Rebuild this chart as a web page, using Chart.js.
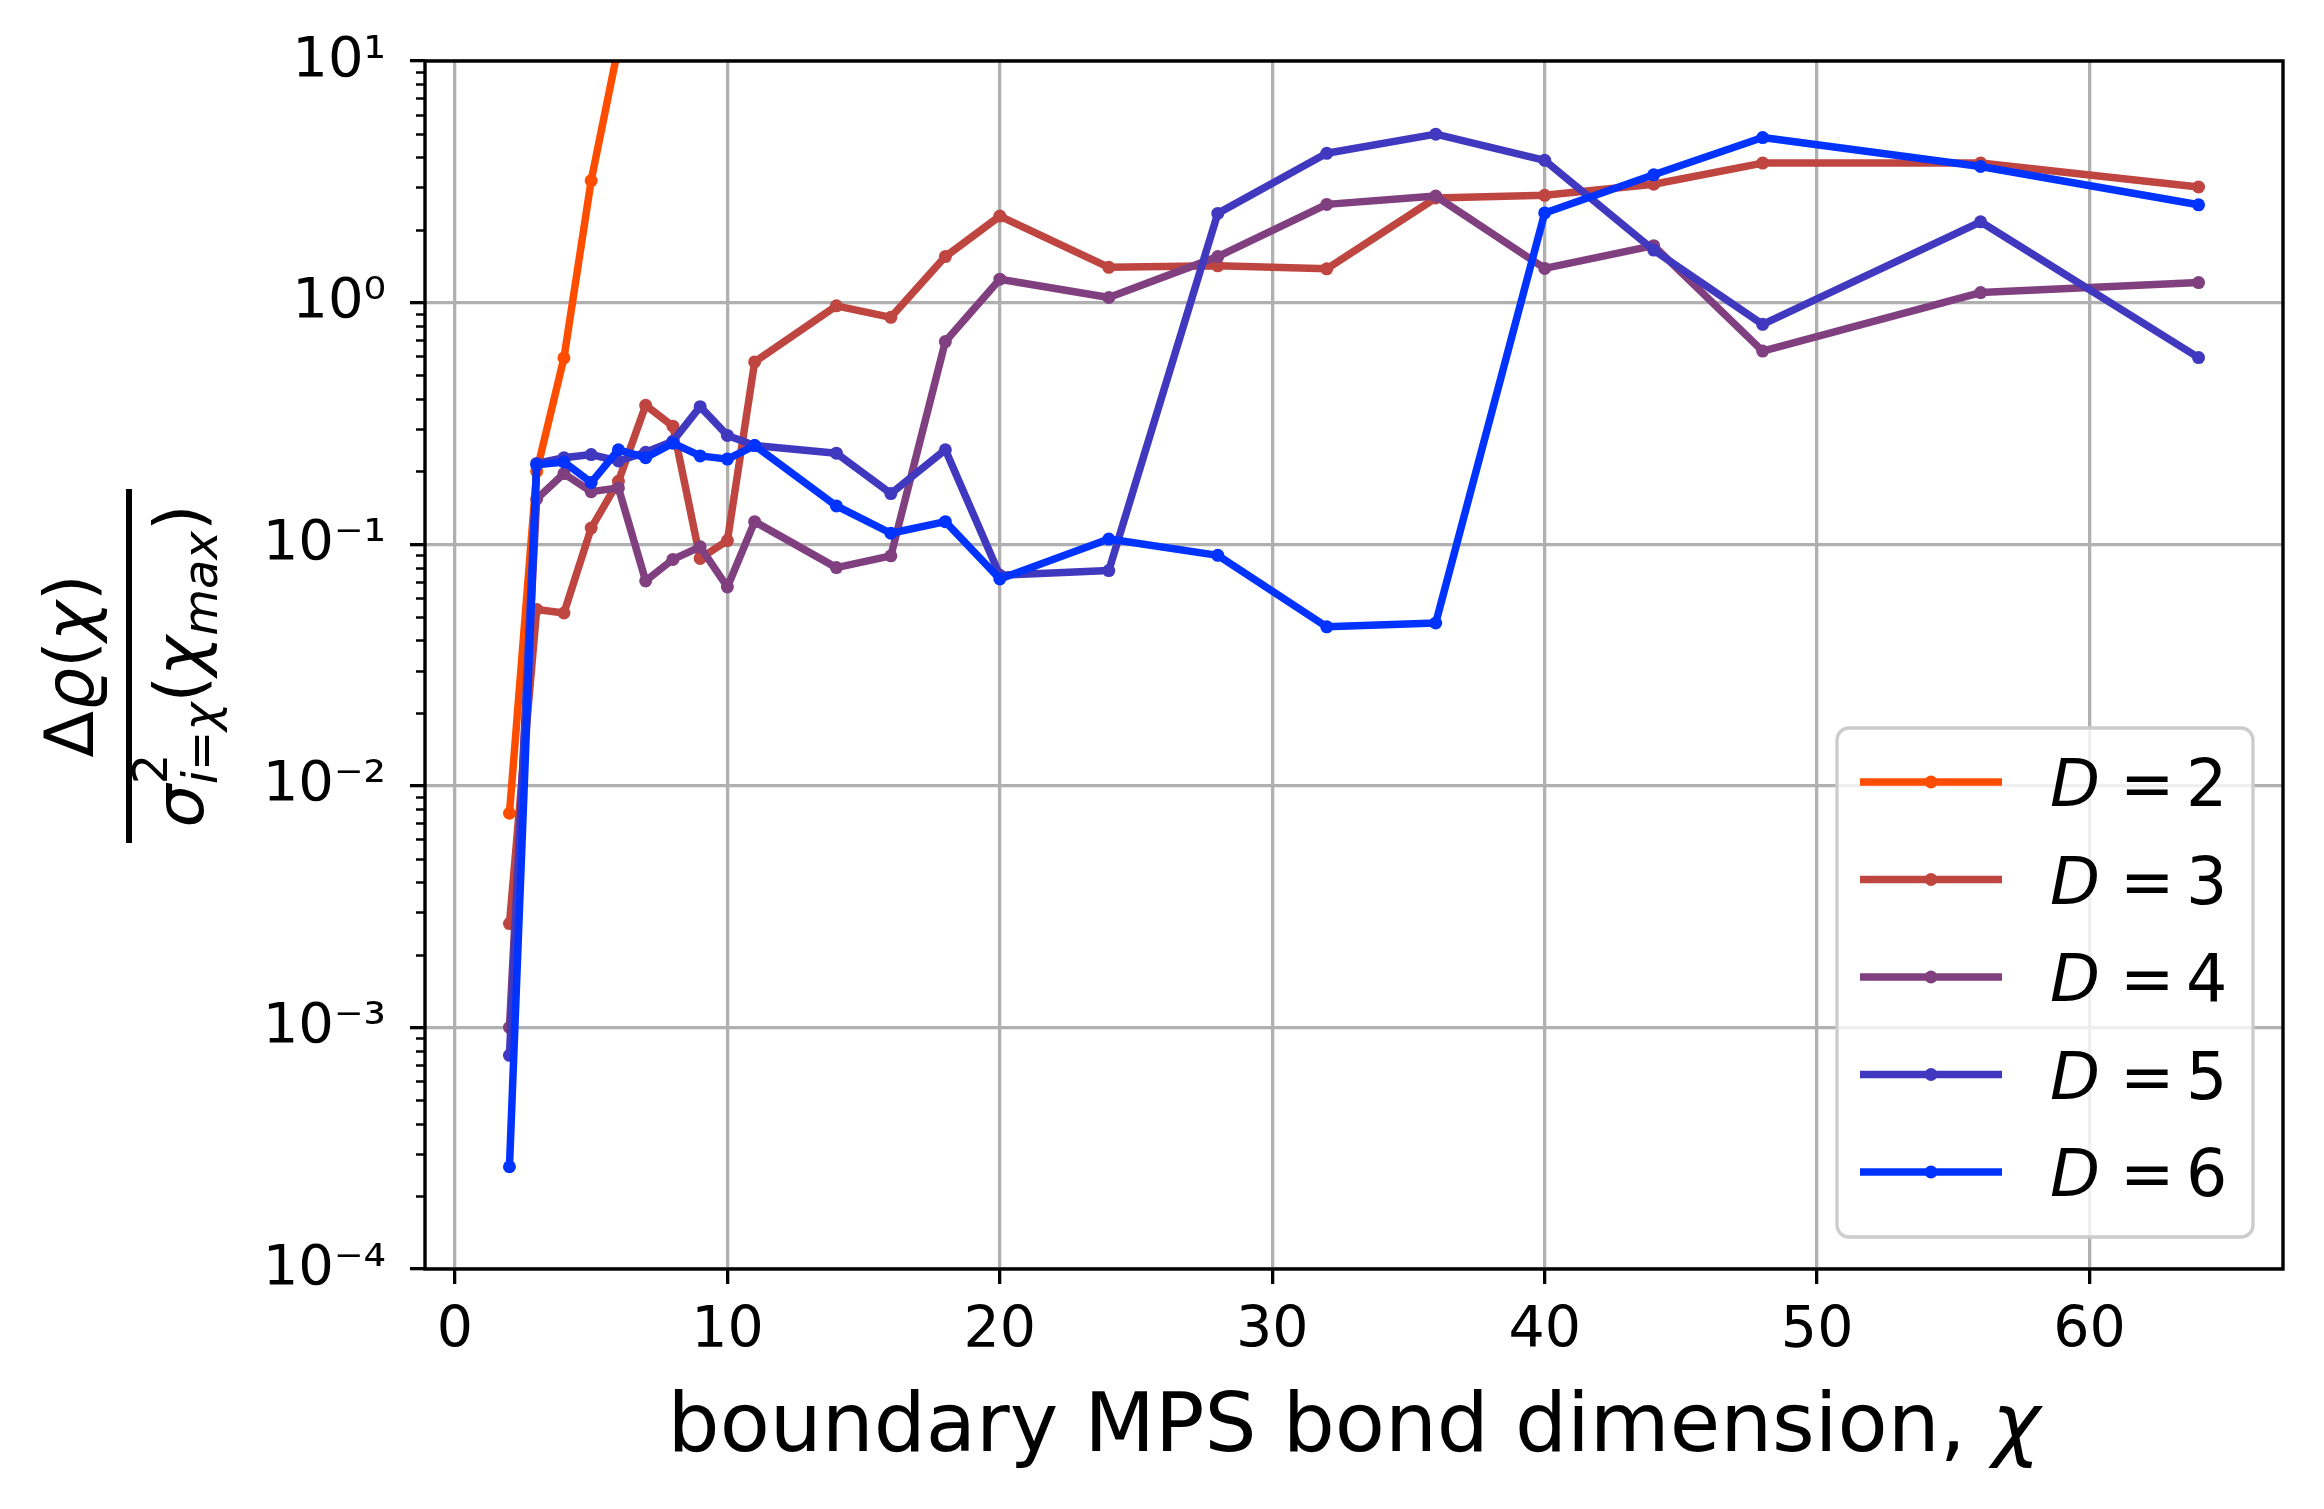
<!DOCTYPE html>
<html>
<head>
<meta charset="utf-8">
<script src="https://cdn.jsdelivr.net/npm/chart.js@4.4.1/dist/chart.umd.min.js"></script>
<style>
  html, body { margin: 0; padding: 0; background: #fff; }
  canvas { display: block; }
</style>
</head>
<body>
<canvas id="chart" width="2324" height="1509"></canvas>
<script>
// bond dimensions chi
const chiD2 = [2, 3, 4, 5, 6];
const chiAll = [2, 3, 4, 5, 6, 7, 8, 9, 10, 11, 14, 16, 18, 20, 24, 28, 32, 36, 40, 44, 48, 56, 64];

// ratio values
const valsD2 = [0.0077, 0.2, 0.59, 3.2, 11.5];
const valsD3 = [0.00269, 0.0537, 0.0519, 0.1166, 0.182, 0.376, 0.308, 0.0873, 0.1035, 0.568, 0.97, 0.869, 1.55, 2.28, 1.40, 1.42, 1.38, 2.71, 2.78, 3.09, 3.78, 3.78, 3.01];
const valsD4 = [0.001, 0.154, 0.196, 0.165, 0.171, 0.0705, 0.0865, 0.0975, 0.0665, 0.124, 0.080, 0.0895, 0.69, 1.25, 1.05, 1.55, 2.55, 2.76, 1.385, 1.72, 0.63, 1.10, 1.21];
const valsD5 = [0.000766, 0.216, 0.228, 0.235, 0.221, 0.24, 0.267, 0.371, 0.282, 0.256, 0.238, 0.162, 0.246, 0.0744, 0.0778, 2.34, 4.15, 4.98, 3.88, 1.65, 0.813, 2.16, 0.592];
const valsD6 = [0.000265, 0.213, 0.219, 0.18, 0.246, 0.228, 0.262, 0.232, 0.225, 0.256, 0.144, 0.111, 0.124, 0.0718, 0.105, 0.0899, 0.0455, 0.0472, 2.35, 3.38, 4.82, 3.66, 2.54];

const seriesD = ['2', '3', '4', '5', '6'];
const seriesColors = ['rgb(255,77,0)', 'rgb(191,70,64)', 'rgb(128,64,128)', 'rgb(64,57,191)', 'rgb(0,51,255)'];

const xTicks = [0, 10, 20, 30, 40, 50, 60];
const yTicks = [1e-4, 1e-3, 1e-2, 1e-1, 1, 10];
const yTickLabels = ['10⁻⁴', '10⁻³', '10⁻²', '10⁻¹', '10⁰', '10¹'];

const FONT = 'DejaVu Sans';

const seriesX = [chiD2, chiAll, chiAll, chiAll, chiAll];
const seriesY = [valsD2, valsD3, valsD4, valsD5, valsD6];

const datasets = seriesD.map((d, i) => ({
    label: 'D = ' + d,
    data: seriesX[i].map((x, j) => ({ x: x, y: seriesY[i][j] })),
    borderColor: seriesColors[i],
    backgroundColor: seriesColors[i],
    borderWidth: 7.5,
    pointRadius: 6.5,
    pointBorderWidth: 0,
    pointBackgroundColor: seriesColors[i],
    borderJoinStyle: 'round',
    tension: 0,
    clip: 0,
    order: seriesD.length - 1 - i   // last series on top, like matplotlib
}));

// draw a run of text pieces with mixed fonts / offsets
function drawParts(ctx, parts, x, y, align) {
    let total = 0;
    const widths = parts.map(p => {
        ctx.font = p.f;
        const w = ctx.measureText(p.t).width;
        const adv = p.adv !== undefined ? p.adv : w;
        total += adv;
        return adv;
    });
    let cx = align === 'center' ? x - total / 2 : x;
    ctx.textBaseline = 'alphabetic';
    ctx.textAlign = 'left';
    parts.forEach((p, i) => {
        ctx.font = p.f;
        ctx.fillText(p.t, cx + (p.dx || 0), y + (p.dy || 0));
        cx += widths[i];
    });
}

const up = s => s + 'px "' + FONT + '"';
const it = s => 'italic ' + s + 'px "' + FONT + '"';

const decorPlugin = {
    id: 'decor',
    afterDatasetsDraw(chart) {
        const ctx = chart.ctx;
        const a = chart.chartArea;
        const ys = chart.scales.y;
        ctx.save();
        // minor ticks on log axis
        ctx.strokeStyle = '#000';
        ctx.lineWidth = 2.5;
        for (let e = -4; e < 1; e++) {
            for (let m = 2; m < 10; m++) {
                const py = Math.round(ys.getPixelForValue(m * Math.pow(10, e))) + 0.5;
                ctx.beginPath();
                ctx.moveTo(a.left, py);
                ctx.lineTo(a.left - 9, py);
                ctx.stroke();
            }
        }
        // spines
        ctx.lineWidth = 3.4;
        ctx.strokeRect(a.left, a.top, a.right - a.left, a.bottom - a.top);
        ctx.restore();
    },
    afterDraw(chart) {
        const ctx = chart.ctx;
        ctx.save();
        ctx.fillStyle = '#000';

        // x axis title
        drawParts(ctx, [
            { t: 'boundary MPS bond dimension, ', f: up(82) },
            { t: 'χ', f: it(82) }
        ], 1354, 1451, 'center');

        // y axis title (fraction, rotated)
        ctx.save();
        ctx.translate(129, 666);
        ctx.rotate(-Math.PI / 2);
        drawParts(ctx, [
            { t: 'Δ', f: up(68) },
            { t: 'ϱ', f: it(68) },
            { t: '(', f: up(68) },
            { t: 'χ', f: it(68) },
            { t: ')', f: up(68) }
        ], 0, -36, 'center');
        ctx.fillRect(-177, -3, 354, 6);
        drawParts(ctx, [
            { t: 'σ', f: it(68) },
            { t: '2', f: up(48), dy: -36, adv: 0 },
            { t: 'i', f: it(48), dy: 14 },
            { t: '=', f: up(48), dy: 14 },
            { t: 'χ', f: it(48), dy: 14 },
            { t: '(', f: up(68) },
            { t: 'χ', f: it(68) },
            { t: 'max', f: it(48), dy: 14 },
            { t: ')', f: up(68) }
        ], 0, 74, 'center');
        ctx.restore();

        // legend
        const bx = 1837, by = 728, bw = 416, bh = 509;
        ctx.fillStyle = 'rgba(255,255,255,0.8)';
        ctx.strokeStyle = '#cccccc';
        ctx.lineWidth = 3.3;
        ctx.beginPath();
        ctx.roundRect(bx, by, bw, bh, 12);
        ctx.fill();
        ctx.stroke();
        seriesD.forEach((d, i) => {
            const ry = 782 + i * 97.5;
            ctx.strokeStyle = seriesColors[i];
            ctx.lineWidth = 7.5;
            ctx.beginPath();
            ctx.moveTo(1860, ry);
            ctx.lineTo(2002, ry);
            ctx.stroke();
            ctx.fillStyle = seriesColors[i];
            ctx.beginPath();
            ctx.arc(1931, ry, 6.5, 0, Math.PI * 2);
            ctx.fill();
            ctx.fillStyle = '#000';
            ctx.textBaseline = 'alphabetic';
            ctx.textAlign = 'left';
            ctx.font = it(65);
            ctx.fillText('D', 2050, ry + 24);
            ctx.font = up(65);
            ctx.fillText('=', 2120, ry + 24);
            ctx.fillText(d, 2186, ry + 24);
        });
        ctx.restore();
    }
};

new Chart(document.getElementById('chart'), {
    type: 'line',
    data: { datasets: datasets },
    options: {
        responsive: false,
        devicePixelRatio: 1,
        animation: false,
        parsing: true,
        layout: { padding: { left: 0, top: 61, right: 41, bottom: 0 } },
        plugins: {
            legend: { display: false },
            tooltip: { enabled: false }
        },
        scales: {
            x: {
                type: 'linear',
                min: -1.1,
                max: 67.1,
                afterBuildTicks: s => { s.ticks = xTicks.map(v => ({ value: v })); },
                afterFit: s => { s.height = 240; s.paddingLeft = 0; s.paddingRight = 0; },
                grid: { color: '#b0b0b0', lineWidth: 3.3, tickColor: '#000', tickWidth: 3.3, tickLength: 15 },
                border: { display: false },
                ticks: {
                    color: '#000',
                    font: { family: FONT, size: 57 },
                    padding: 14,
                    maxRotation: 0,
                    autoSkip: false
                }
            },
            y: {
                type: 'logarithmic',
                min: 1e-4,
                max: 10,
                afterBuildTicks: s => { s.ticks = yTicks.map(v => ({ value: v })); },
                afterFit: s => { s.width = 425; s.paddingTop = 0; s.paddingBottom = 0; },
                grid: { color: '#b0b0b0', lineWidth: 3.3, tickColor: '#000', tickWidth: 3.3, tickLength: 15 },
                border: { display: false },
                ticks: {
                    color: '#000',
                    font: { family: FONT, size: 56 },
                    padding: 24,
                    autoSkip: false,
                    callback: v => {
                        const k = yTicks.findIndex(t => Math.abs(Math.log10(t) - Math.log10(v)) < 1e-6);
                        return k >= 0 ? yTickLabels[k] : '';
                    }
                }
            }
        }
    },
    plugins: [decorPlugin]
});
</script>
</body>
</html>
